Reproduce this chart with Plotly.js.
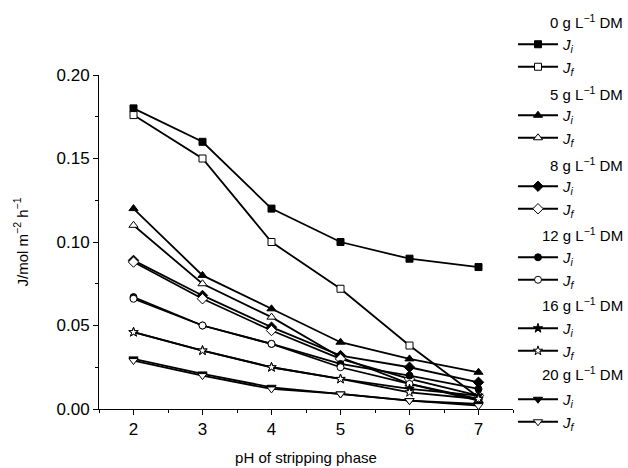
<!DOCTYPE html>
<html>
<head>
<meta charset="utf-8">
<script src="https://cdn.plot.ly/plotly-3.0.1.min.js"></script>
<style>html,body{margin:0;padding:0;background:#fff;}#chart{width:628px;height:468px;}</style>
</head>
<body>
<div id="chart"></div>
<script>
const pH = [2, 3, 4, 5, 6, 7];
const concentrations = ['0', '5', '8', '12', '16', '20'];
const Ji_0  = [0.180, 0.160, 0.120, 0.100, 0.090, 0.085];
const Jf_0  = [0.176, 0.150, 0.100, 0.072, 0.038, 0.007];
const Ji_5  = [0.120, 0.080, 0.060, 0.040, 0.030, 0.022];
const Jf_5  = [0.110, 0.075, 0.055, 0.031, 0.015, 0.005];
const Ji_8  = [0.089, 0.068, 0.049, 0.032, 0.025, 0.016];
const Jf_8  = [0.088, 0.066, 0.047, 0.030, 0.018, 0.008];
const Ji_12 = [0.067, 0.050, 0.039, 0.027, 0.020, 0.012];
const Jf_12 = [0.066, 0.050, 0.039, 0.025, 0.015, 0.006];
const Ji_16 = [0.046, 0.035, 0.025, 0.018, 0.012, 0.008];
const Jf_16 = [0.046, 0.035, 0.025, 0.018, 0.010, 0.006];
const Ji_20 = [0.030, 0.021, 0.013, 0.009, 0.005, 0.003];
const Jf_20 = [0.029, 0.020, 0.012, 0.009, 0.005, 0.002];

const JiSeries = [Ji_0, Ji_5, Ji_8, Ji_12, Ji_16, Ji_20];
const JfSeries = [Jf_0, Jf_5, Jf_8, Jf_12, Jf_16, Jf_20];
const symbols = ['square', 'triangle-up', 'diamond', 'circle', 'star', 'triangle-down'];
const sizes = [7, 8, 8, 7, 7, 8];

const traces = [];
concentrations.forEach((c, k) => {
  traces.push({
    x: pH, y: JiSeries[k], type: 'scatter', mode: 'lines+markers',
    name: '<i>J</i><sub><i>i</i></sub>', legendgroup: 'g' + c,
    line: {color: '#000', width: 1.8},
    marker: {symbol: symbols[k], size: sizes[k], color: '#000', line: {color: '#000', width: 1}}
  });
  traces.push({
    x: pH, y: JfSeries[k], type: 'scatter', mode: 'lines+markers',
    name: '<i>J</i><sub><i>f</i></sub>', legendgroup: 'g' + c,
    line: {color: '#000', width: 1.8},
    marker: {symbol: symbols[k], size: sizes[k], color: '#fff', line: {color: '#000', width: 1}}
  });
});

const headerY = [22, 94, 164, 234, 304, 373];
const annotations = concentrations.map((c, k) => ({
  xref: 'paper', yref: 'paper',
  x: (625 - 99) / 414, y: (409 - headerY[k]) / 334,
  xanchor: 'right', yanchor: 'middle', showarrow: false,
  text: c + ' g L<sup>−1</sup> DM',
  font: {family: 'Liberation Sans, Arial, sans-serif', size: 15, color: '#000'}
}));

const layout = {
  width: 628, height: 468,
  margin: {l: 99, r: 115, t: 75, b: 59},
  paper_bgcolor: '#fff', plot_bgcolor: '#fff',
  font: {family: 'Liberation Sans, Arial, sans-serif', size: 15, color: '#000'},
  showlegend: true,
  xaxis: {
    range: [1.5, 7.5], tickvals: pH, ticktext: pH.map(String),
    ticks: 'outside', ticklen: 5, tickwidth: 1, tickcolor: '#000',
    minor: {dtick: 0.5, ticks: 'outside', ticklen: 3, tickcolor: '#000'},
    showline: true, linecolor: '#000', linewidth: 1,
    showgrid: false, zeroline: false,
    tickfont: {size: 17},
    title: {text: 'pH of stripping phase', font: {size: 15}, standoff: 14}
  },
  yaxis: {
    range: [0, 0.2], dtick: 0.05, tickformat: '.2f',
    ticks: 'outside', ticklen: 5, tickwidth: 1, tickcolor: '#000',
    minor: {dtick: 0.025, ticks: 'outside', ticklen: 3, tickcolor: '#000'},
    showline: true, linecolor: '#000', linewidth: 1,
    showgrid: false, zeroline: false,
    tickfont: {size: 17},
    title: {text: 'J/mol m<sup>−2</sup> h<sup>−1</sup>', font: {size: 15}, standoff: 24}
  },
  legend: {
    x: 1.0, xanchor: 'left', y: (409 - 28) / 334, yanchor: 'top',
    traceorder: 'grouped', tracegroupgap: 26, itemwidth: 40,
    maxheight: 1,
    bgcolor: 'rgba(0,0,0,0)', font: {size: 15}
  },
  annotations: annotations
};

Plotly.newPlot('chart', traces, layout, {displayModeBar: false, staticPlot: true});
</script>
</body>
</html>
